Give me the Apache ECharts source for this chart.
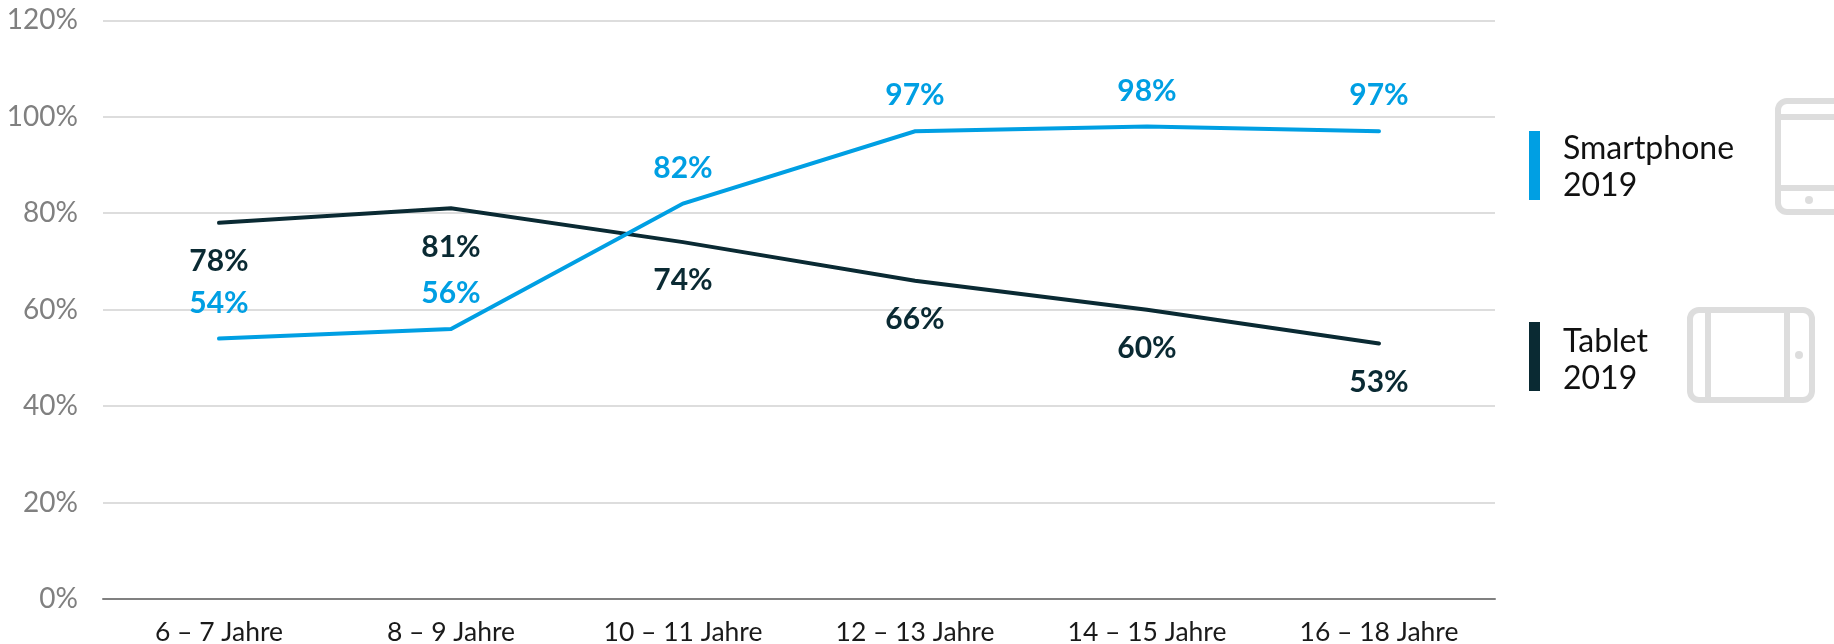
<!DOCTYPE html>
<html>
<head>
<meta charset="utf-8">
<style>html,body{margin:0;background:#fff}#chart{width:1834px;height:644px}</style>
<script src="https://cdn.jsdelivr.net/npm/echarts@6/dist/echarts.min.js"></script>
</head>
<body>
<div id="chart"></div>
<script>
const categories = ["6 – 7 Jahre", "8 – 9 Jahre", "10 – 11 Jahre", "12 – 13 Jahre", "14 – 15 Jahre", "16 – 18 Jahre"];
const smartphone = [54, 56, 82, 97, 98, 97];
const tablet = [78, 81, 74, 66, 60, 53];
const legendSmartphone = "Smartphone\n2019";
const legendTablet = "Tablet\n2019";

const BLUE = "#009fe3", DARK = "#0a2a33", GRID = "#dddddd", ICON = "#dddddd";
const FONT = "Lato, sans-serif";

function lineSeries(name, data, color, position, distance) {
  return {
    name, type: "line", data, silent: true,
    // symbol "none" would drop the labels too, so keep a tiny one under the line
    symbol: "circle", symbolSize: 1, showSymbol: true,
    itemStyle: { color },
    lineStyle: { color, width: 4, cap: "round", join: "miter" },
    label: {
      show: true, position, distance, color,
      fontFamily: FONT, fontSize: 30, fontWeight: 700,
      formatter: p => p.value + "%",
    },
  };
}

// icon helpers, drawn on the right of the legend
const frame = (x, y, w, h) => ({ type: "rect", shape: { x, y, width: w, height: h, r: 9 }, style: { fill: "none", stroke: ICON, lineWidth: 6 } });
const bar = (x, y, w, h) => ({ type: "rect", shape: { x, y, width: w, height: h }, style: { fill: ICON } });
const dot = (cx, cy) => ({ type: "circle", shape: { cx, cy, r: 4 }, style: { fill: ICON } });
const swatch = (y, fill) => ({ type: "rect", shape: { x: 1529, y, width: 11, height: 69 }, style: { fill } });
const legendText = (y, text) => ({
  type: "text", x: 1563, y,
  style: { text, fill: "#111", font: "32px " + FONT, lineHeight: 37, textVerticalAlign: "top" },
});

const chart = echarts.init(document.getElementById("chart"), null, { renderer: "canvas" });
chart.setOption({
  animation: false,
  backgroundColor: "#fff",
  // outerBounds would squeeze the grid because of the big axis labels
  grid: { left: 103, right: 339, top: 20.3, bottom: 45, outerBoundsMode: "none" },
  xAxis: {
    type: "category", data: categories, boundaryGap: true,
    axisLine: { show: true, lineStyle: { color: "#808080", width: 2 } },
    axisTick: { show: false },
    axisLabel: { color: "#1a1a1a", fontFamily: FONT, fontSize: 26.5, margin: 20, interval: 0 },
  },
  yAxis: {
    type: "value", min: 0, max: 120, interval: 20,
    axisLine: { show: false }, axisTick: { show: false },
    axisLabel: { color: "#808080", fontFamily: FONT, fontSize: 28, margin: 25, formatter: "{value}%" },
    splitLine: { lineStyle: { color: GRID, width: 2 } },
  },
  series: [
    lineSeries("Tablet 2019", tablet, DARK, "bottom", 23),
    lineSeries("Smartphone 2019", smartphone, BLUE, "top", 20),
  ],
  graphic: [
    swatch(131, BLUE), swatch(322, DARK),
    legendText(130, legendSmartphone), legendText(323, legendTablet),
    frame(1778, 101, 70, 111), bar(1778, 114, 70, 6), bar(1778, 185, 70, 6), dot(1809, 200),
    frame(1690, 310, 122, 90), bar(1705, 310, 6, 90), bar(1784, 310, 6, 90), dot(1799, 355),
  ],
});
</script>
</body>
</html>
